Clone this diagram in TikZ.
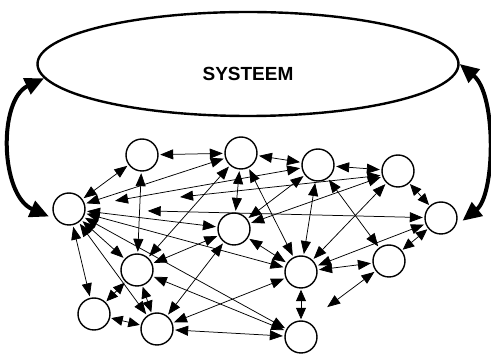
\documentclass[tikz,border=0pt]{standalone}
\usepackage{fontspec}
\setmainfont{Liberation Sans}
\usepackage{tikz}
\usetikzlibrary{arrows.meta,shapes.geometric}
\tikzstyle{agent}=[circle,draw,line width=1.4pt,fill=white,minimum size=32pt,inner sep=0pt]
\tikzstyle{link} = [draw, line width=0.75pt, {Triangle[length=13pt,width=10pt]}-{Triangle[length=13pt,width=10pt]}]
\tikzstyle{shortlink} = [draw, line width=0.75pt, shorten >=1pt, shorten <=1pt, {Triangle[length=11.5pt,width=10pt]}-{Triangle[length=11.5pt,width=10pt]}]
\tikzstyle{feedback} = [draw, line width=4pt, {Triangle[length=19pt,width=17pt]}-{Triangle[length=19pt,width=17pt]}]

\begin{document}
\begin{tikzpicture}[x=1pt,y=-1pt,shorten >=1.5pt,shorten <=1.5pt]
    \useasboundingbox (0,0) rectangle (491,355);

        \node[ellipse,draw,line width=2.4pt,fill=white,minimum width=421pt,minimum height=104pt,inner sep=0pt] (sys) at (248,64) {};
        \node[font=\fontsize{19}{22}\selectfont\bfseries] (systxt) at (248,74) {SYSTEEM};

        % agents, top row
        \node[agent] (A) at (142,155) {};
        \node[agent] (B) at (241,153) {};
        \node[agent] (C) at (318,165) {};
        \node[agent] (D) at (398,171) {};
        % middle
        \node[agent] (E) at (69,209) {};
        \node[agent] (F) at (234,229) {};
        \node[agent] (G) at (441,218) {};
        \node[agent] (H) at (137,270) {};
        \node[agent] (I) at (301,272) {};
        \node[agent] (J) at (389,261) {};
        % bottom row
        \node[agent] (K) at (94,314) {};
        \node[agent] (L) at (157,329) {};
        \node[agent] (M) at (301,337) {};
        \coordinate (Jend) at (326,308);

  \path [feedback,shorten <=0pt,shorten >=8pt] (sys.184) .. controls (-2,100) and (0,195) .. (E.220);
  \path [feedback,shorten <=0pt,shorten >=9pt] (sys.east) .. controls (497,95) and (495,195) .. (G.330);

  \path [link] (A) -- (B);
  \path [link] (B) -- (C);
  \path [link] (C) -- (D);
  \path [shortlink] (D) -- (G);
  \path [shortlink] (G) -- (J);
  \path [link] (A) -- (E);
  \path [link] (A) -- (H);
  \path [link] (E) -- (B);
  \path [link,shorten <=30pt] (E) -- (C); % heads on E side stand off
  \path [link,shorten <=95pt] (E) -- (D.195);
  \path [link,shorten <=62pt] (E) -- (G);
  \path [link] (E) -- (F);
  \path [link] (E) -- (H);
  \path [link] (E) -- (K);
  \path [link] (E) -- (L);
  \path [link] (E) -- (I);
  \path [link] (E) -- (M);
  \path [link] (B) -- (F);
  \path [link] (B) -- (I);
  \path [link] (B) -- (H);
  \path [link] (C) -- (F);
  \path [link] (C) -- (I);
  \path [link] (C) -- (J);
  \path [link] (D) -- (I);
  \path [link] (D) -- (F);
  \path [link] (I) -- (G);
  \path [link] (F) -- (H);
  \path [link] (F) -- (L);
  \path [link] (F) -- (I);
  \path [shortlink] (H) -- (K);
  \path [shortlink] (H) -- (L);
  \path [shortlink] (K) -- (L);
  \path [link] (L) -- (I);
  \path [link] (L) -- (M);
  \path [link] (H) -- (M);
  \path [link] (I) -- (J);
  \path [shortlink] (I) -- (M);
  \path [link] (J) -- (Jend);

\end{tikzpicture}
\end{document}
